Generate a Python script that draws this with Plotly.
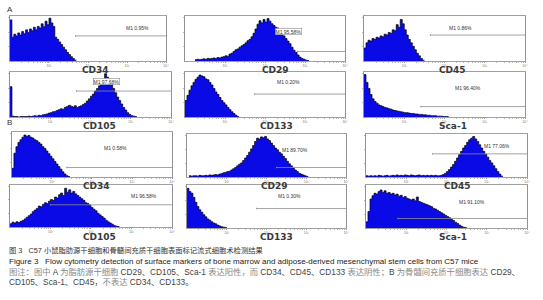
import numpy as np
import plotly.graph_objects as go

# ---------------- data ----------------
BIN_WIDTH = 0.05          # histogram bin width in decades (log10 fluorescence)
DECADES = [1, 2, 3, 4]
DECADE_LABELS = ["10¹", "10²", "10³", "10⁴"]

PANEL_NAMES = ["A-CD34", "A-CD29", "A-CD45", "A-CD105", "A-CD133", "A-Sca-1",
               "B-CD34", "B-CD29", "B-CD45", "B-CD105", "B-CD133", "B-Sca-1"]
MARKER_LABELS = ["CD34", "CD29", "CD45", "CD105", "CD133", "Sca-1",
                 "CD34", "CD29", "CD45", "CD105", "CD133", "Sca-1"]

# first bin (log10) of each histogram
HIST_START = [0.0, 0.25, 0.0, 0.0, 0.0, 0.0,
              0.0, 0.05, 0.0, 0.0, 0.0, 0.0]

# counts, % of panel maximum
A_CD34 = [95, 55, 62, 58, 65, 60, 68, 63, 72, 66, 74, 70, 78, 72, 80, 76, 86, 79, 92, 84,
          99, 88, 80, 55, 50, 44, 38, 32, 26, 20, 15, 10, 6, 2]
A_CD29 = [3, 4, 3, 4, 5, 4, 6, 5, 6, 7, 6, 8, 7, 9, 10, 12, 11, 16, 18, 22, 26, 28, 32, 35,
          38, 42, 47, 50, 56, 64, 74, 85, 93, 88, 96, 90, 98, 92, 86, 82, 78, 76, 72, 64,
          58, 52, 46, 40, 32, 25, 20, 14, 9, 6, 4, 2, 1]
A_CD45 = [30, 42, 48, 46, 52, 50, 55, 53, 58, 56, 62, 60, 66, 64, 72, 70, 84, 78, 96, 86,
          72, 60, 50, 42, 34, 26, 18, 12, 6, 2]
A_CD105 = [70, 2, 1, 1, 0, 1, 1, 1, 1, 2, 1, 2, 3, 2, 4, 3, 5, 6, 7, 9, 10, 12, 13, 15,
           17, 19, 18, 22, 24, 27, 25, 23, 26, 22, 24, 26, 29, 32, 37, 42, 48, 53, 60, 66,
           72, 80, 86, 100, 92, 85, 76, 66, 56, 46, 38, 30, 22, 16, 10, 6, 3, 2, 1]
A_CD133 = [38, 50, 62, 72, 80, 87, 92, 97, 95, 93, 88, 86, 80, 74, 66, 58, 52, 45, 38, 33,
           28, 22, 17, 12, 8, 4, 1]
A_SCA1 = [98, 80, 66, 52, 42, 36, 32, 28, 26, 24, 22, 21, 19, 18, 16, 15, 14, 13, 12, 11,
          10, 10, 9, 8, 8, 7, 7, 6, 6, 5, 5, 4, 4, 3, 3, 3, 2, 2, 2, 1, 1, 1]
B_CD34 = [20, 55, 70, 80, 86, 92, 97, 94, 96, 92, 90, 86, 84, 80, 76, 70, 66, 60, 54, 48,
          42, 36, 30, 24, 18, 12, 7, 3, 1]
B_CD29 = [3, 2, 3, 3, 2, 4, 3, 3, 4, 3, 5, 4, 5, 6, 5, 7, 8, 10, 11, 13, 14, 17, 20, 23,
          27, 31, 34, 40, 46, 52, 60, 68, 76, 86, 94, 92, 97, 95, 98, 92, 88, 82, 76, 70,
          66, 60, 56, 50, 45, 38, 32, 27, 22, 17, 13, 9, 7, 5, 3, 1]
B_CD45 = [3, 2, 3, 2, 3, 2, 4, 3, 2, 3, 4, 2, 3, 4, 3, 5, 3, 4, 3, 5, 4, 3, 5, 4, 3, 4, 5,
          3, 4, 3, 4, 3, 4, 3, 4, 3, 3, 4, 6, 9, 13, 18, 24, 30, 38, 46, 54, 62, 70, 76, 84,
          90, 94, 98, 92, 86, 78, 70, 62, 55, 48, 40, 34, 27, 20, 13, 7, 2]
B_CD105 = [8, 12, 10, 13, 11, 14, 16, 20, 24, 28, 32, 38, 42, 46, 52, 50, 56, 60, 58, 64,
           68, 66, 74, 72, 80, 84, 78, 96, 86, 92, 84, 88, 82, 78, 74, 70, 66, 60, 58, 54,
           48, 44, 40, 34, 30, 26, 22, 17, 13, 10, 7, 4, 2, 1]
B_CD133 = [96, 88, 84, 74, 62, 52, 44, 38, 32, 27, 22, 19, 15, 12, 10, 7, 5, 3, 2, 1]
B_SCA1 = [15, 40, 70, 78, 84, 82, 88, 92, 86, 90, 84, 86, 82, 84, 80, 82, 77, 79, 74, 76,
          72, 70, 68, 70, 66, 75, 64, 62, 60, 58, 56, 54, 52, 48, 46, 43, 40, 37, 34, 31,
          28, 25, 21, 18, 14, 11, 7, 4, 2, 1]

HIST_COUNTS = [A_CD34, A_CD29, A_CD45, A_CD105, A_CD133, A_SCA1,
               B_CD34, B_CD29, B_CD45, B_CD105, B_CD133, B_SCA1]

# M1 gate: start (log10), level (% of max), label position and value
GATE_START = [1.68, 2.81, 1.65, 1.65, 1.74, 1.41, 1.37, 2.25, 1.65, 1.00, 1.75, 0.79]
GATE_LEVEL = [58, 22, 60, 60, 53, 24, 22, 23, 56, 55, 47, 23]
GATE_LABEL_X = [2.93, 2.24, 2.07, 2.05, 2.24, 2.20, 2.24, 2.33, 2.89, 2.94, 2.25, 2.25]
GATE_LABEL_Y = [76, 68, 76, 82, 82, 67, 67, 65, 74, 76, 77, 63]
GATE_PCT = ["0.95%", "95.58%", "0.86%", "97.68%", "0.20%", "96.40%",
            "0.58%", "89.70%", "77.06%", "96.58%", "0.30%", "91.10%"]
GATE_BOXED = [False, True, False, True, False, False,
              False, False, False, False, False, False]

# ---------------- layout (pixels of 543x300 page) ----------------
W, H = 543, 300
PANEL_BOX = [  # left, right, top, bottom
    (10, 167, 16, 61), (186, 347, 16, 61), (366, 528, 16, 61),
    (10, 172, 72, 117), (186, 347, 72, 117), (366, 528, 72, 117),
    (12, 173, 132, 177), (188, 348, 134, 177), (368, 530, 134, 177),
    (10, 173, 185, 227), (188, 348, 185, 228), (368, 530, 185, 228),
]
# label centre x, label top y
LABEL_POS = [(96, 63), (277, 63), (455, 63), (100, 119), (278, 119), (456, 119),
             (97, 179), (276, 179), (460, 179), (100, 230), (278, 230), (456, 230)]

fig = go.Figure()
layout = dict(width=W, height=H, margin=dict(l=0, r=0, t=0, b=0),
              paper_bgcolor="white", plot_bgcolor="white", showlegend=False)
annotations = []

minor_vals = [k + np.log10(m) for k in range(4) for m in range(2, 10)]

for i, name in enumerate(PANEL_NAMES):
    n = i + 1
    xa = "x" if n == 1 else f"x{n}"
    ya = "y" if n == 1 else f"y{n}"
    l, r, t, b = PANEL_BOX[i]
    counts = HIST_COUNTS[i]
    edges = HIST_START[i] + BIN_WIDTH * np.arange(len(counts) + 1)
    yy = list(counts) + [counts[-1]]
    fig.add_trace(go.Scatter(x=edges, y=yy, mode="lines", line_shape="hv",
                             line=dict(color="black", width=0.7),
                             fill="tozeroy", fillcolor="#0a0ae6",
                             xaxis=xa, yaxis=ya, hoverinfo="skip"))
    # gate line
    fig.add_trace(go.Scatter(x=[GATE_START[i], DECADES[-1]],
                             y=[GATE_LEVEL[i], GATE_LEVEL[i]], mode="lines",
                             line=dict(color="#8c8c8c", width=0.8),
                             xaxis=xa, yaxis=ya, hoverinfo="skip"))
    fig.add_trace(go.Scatter(x=[GATE_START[i], GATE_START[i]],
                             y=[GATE_LEVEL[i] - 2, GATE_LEVEL[i] + 2], mode="lines",
                             line=dict(color="#8c8c8c", width=0.8),
                             xaxis=xa, yaxis=ya, hoverinfo="skip"))
    ann = dict(x=GATE_LABEL_X[i], y=GATE_LABEL_Y[i], xref=xa, yref=ya,
               text="M1 " + GATE_PCT[i], showarrow=False,
               xanchor="left", yanchor="middle",
               font=dict(size=5, color="#333", family="Liberation Sans"))
    if GATE_BOXED[i]:
        ann.update(bgcolor="white", bordercolor="#777", borderwidth=0.5, borderpad=0)
    annotations.append(ann)

    layout["xaxis" if n == 1 else f"xaxis{n}"] = dict(
        domain=[l / W, r / W], range=[0, DECADES[-1]], anchor=ya,
        showline=True, linecolor="#888", linewidth=0.8, mirror=True,
        showgrid=False, zeroline=False, ticks="outside", ticklen=1,
        tickcolor="#555", tickwidth=0.6,
        tickvals=DECADES, ticktext=DECADE_LABELS,
        tickfont=dict(size=3.5, color="#777", family="Liberation Sans"),
        minor=dict(tickvals=minor_vals, ticks="outside", ticklen=1,
                   tickcolor="#777", tickwidth=0.5),
        fixedrange=True)
    layout["yaxis" if n == 1 else f"yaxis{n}"] = dict(
        domain=[1 - b / H, 1 - t / H], range=[0, 104], anchor=xa,
        showline=True, linecolor="#777", linewidth=0.8, mirror=True,
        showgrid=False, zeroline=False, ticks="outside", ticklen=1.5,
        tickcolor="#777", tickwidth=0.5, tickvals=[33, 67, 100],
        showticklabels=False, fixedrange=True)

    lx, ly = LABEL_POS[i]
    annotations.append(dict(x=lx / W, y=1 - ly / H, xref="paper", yref="paper",
                            text="<b>" + MARKER_LABELS[i] + "</b>", showarrow=False,
                            xanchor="center", yanchor="top",
                            font=dict(size=9, color="#3a3a3a", family="DejaVu Sans")))

# group letters
for letter, (px, py) in zip(["A", "B"], [(10, 10), (10, 123)]):
    annotations.append(dict(x=px / W, y=1 - py / H, xref="paper", yref="paper",
                            text=letter, showarrow=False, xanchor="center",
                            yanchor="middle",
                            font=dict(size=8, color="#333", family="Liberation Sans")))

CAPTION_CN = "图 3   C57 小鼠脂肪源干细胞和骨髓间充质干细胞表面标记流式细胞术检测结果"
CAPTION_EN = ("Figure 3   Flow cytometry detection of surface markers of bone marrow and "
              "adipose-derived mesenchymal stem cells from C57 mice")
NOTE_1 = ("<span style='color:#888'>图注：图中</span> A <span style='color:#888'>为脂肪源干细胞</span> "
          "CD29、CD105、Sca-1 <span style='color:#888'>表达阳性，而</span> CD34、CD45、CD133 "
          "<span style='color:#888'>表达阴性；</span>B <span style='color:#888'>为骨髓间充质干细胞表达</span> CD29、")
NOTE_2 = "CD105、Sca-1、CD45，<span style='color:#888'>不表达</span> CD34、CD133。"

for txt, py, col, fs in [(CAPTION_CN, 250, "#333", 7.3), (CAPTION_EN, 261, "#222", 8),
                         (NOTE_1, 272, "#444", 8.3), (NOTE_2, 282, "#444", 8.3)]:
    annotations.append(dict(x=7 / W, y=1 - py / H, xref="paper", yref="paper",
                            text=txt, showarrow=False, xanchor="left", yanchor="middle",
                            font=dict(size=fs, color=col,
                                      family="Liberation Sans, Noto Sans CJK SC")))

layout["annotations"] = annotations
fig.update_layout(**layout)
fig.write_html("out.html", config={"displayModeBar": False, "staticPlot": True},
               post_script="document.body.style.margin='0px';document.body.style.padding='0px';")
